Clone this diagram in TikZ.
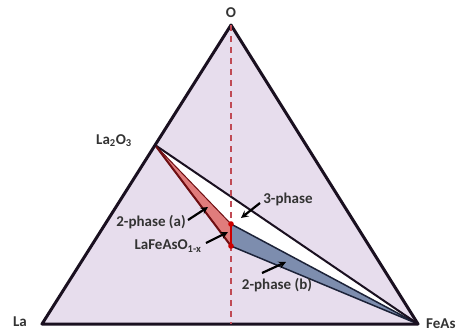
\documentclass[tikz,border=0pt]{standalone}
\usepackage{fontspec}
\setmainfont{Carlito}
\definecolor{ternbg}{HTML}{E7DDED}
\definecolor{edgeink}{HTML}{1A1020}
\definecolor{phasea}{HTML}{E07C7C}
\definecolor{phaseaink}{HTML}{6E0E12}
\definecolor{phaseb}{HTML}{7D8DAE}
\definecolor{phasebink}{HTML}{1C2238}
\definecolor{cutline}{HTML}{C04A55}
\tikzset{lbl/.style={font=\bfseries\fontsize{15}{17}\selectfont, text=black!80, inner sep=1pt},
  pointer/.style={->, line width=2.2pt, >=stealth}}
\begin{document}
\begin{tikzpicture}[x=1pt, y=-1pt]
        \useasboundingbox (0,0) rectangle (459,333);
        \coordinate (La) at (42,324);\coordinate (FeAs) at (418,324);\coordinate (O) at (231,25);
        \coordinate (La2O3) at (155,145);\coordinate (base) at (231,324);
        \coordinate (top) at (231,224);\coordinate (bot) at (231,246);
        % ternary background
        \fill [ternbg] (La)--(FeAs)--(O)--cycle;
        \fill [white] (La2O3)--(FeAs)--(top)--cycle;
        \draw [phaseaink, line width=1pt, fill=phasea, line join=round] (La2O3)--(top)--(bot)--cycle;
        \draw [phasebink, line width=1.5pt, fill=phaseb, line join=round] (top)--(FeAs)--(bot)--cycle;
        \draw [edgeink, line width=2pt] (La2O3)--(FeAs);
        \draw [phaseaink, line width=2pt] (La2O3)--(bot);
        \draw [edgeink, line width=3pt, line join=round] (La)--(FeAs)--(O)--cycle;
        \draw [cutline, line width=1.3pt, dash pattern=on 6pt off 5pt] (O)--(base);
        \draw [red!80!black, line width=2.5pt] (top)--(bot);
        \fill [red!80!black] (top) circle (2.8pt) (bot) circle (2.8pt);
        % labels
        \node [lbl] (lO) at (231,13) {O};
        \node [lbl] (lLa) at (20,322) {La};
        \node [lbl, anchor=west] (lFeAs) at (425,324) {FeAs};
        \node [lbl] (lLaO) at (114,141) {La\textsubscript{2}O\textsubscript{3}};
        \node [lbl] (l3) at (288,199) {3-phase};
        \node [lbl] (l2a) at (151,222) {2-phase (a)};
        \node [lbl] (lx) at (168,246) {LaFeAsO\textsubscript{1-x}};
        \node [lbl] (l2b) at (277,285) {2-phase (b)};
        \coordinate (a3) at (260,203);\coordinate (b3) at (241,218);
        \coordinate (a2a) at (188,220);\coordinate (b2a) at (208,207);
        \coordinate (ax) at (206,243);\coordinate (bx) at (228,232);
        \coordinate (a2b) at (262,273);\coordinate (b2b) at (286,262);
        \draw [pointer] (a3)--(b3);\draw [pointer] (a2a)--(b2a);
        \draw [pointer] (ax)--(bx);\draw [pointer] (a2b)--(b2b);
\end{tikzpicture}
\end{document}
